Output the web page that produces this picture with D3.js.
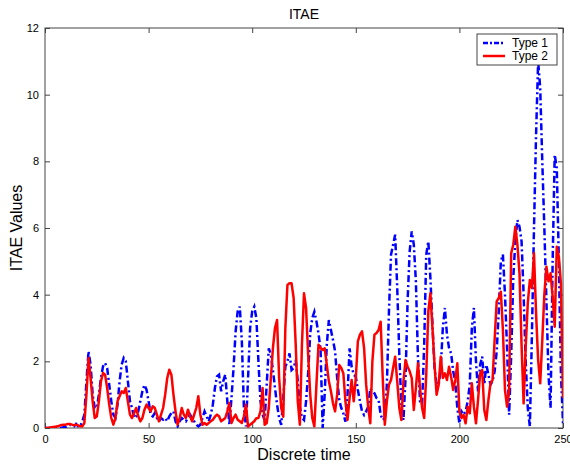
<!DOCTYPE html>
<html>
<head>
<meta charset="utf-8">
<script src="https://cdn.jsdelivr.net/npm/d3@7"></script>
<style>
  body { margin: 0; background: #fff; }
  text { font-family: Arial, "Liberation Sans", sans-serif; }
</style>
</head>
<body>
<svg id="chart"></svg>
<script>
/* ITAE line chart */
var w = 570, h = 464;
var margin = {top: 28, right: 7, bottom: 36, left: 45};

var titleText = "ITAE";
var xLabel = "Discrete time";
var yLabel = "ITAE Values";
var seriesNames = ["Type 1", "Type 2"];
var xTicks = [0, 50, 100, 150, 200, 250];
var yTicks = [0, 2, 4, 6, 8, 10, 12];

// discrete time index 0..250
var time = d3.range(0, 251);

var type1 = [
  0, 0, 0, 0, 0, 0, 0, 0, 0.01, 0.02,
  0.02, 0.05, 0.1, 0.06, 0.05, 0.12, 0.05, 0.05, 0.2, 0.4,
  1.4, 2.3, 1.9, 1.0, 0.6, 0.6, 1.0, 1.5, 1.85, 1.95,
  1.8, 1.3, 0.8, 0.4, 0.3, 0.7, 1.4, 1.9, 2.1, 2.0,
  1.4, 0.8, 0.6, 0.3, 0.35, 0.5, 0.8, 1.1, 1.29, 1.15,
  0.8, 0.4, 0.35, 0.45, 0.3, 0.2, 0.3, 0.25, 0.3, 0.2,
  0.35, 0.45, 0.5, 0.2, 0.05, 0.2, 0.3, 0.25, 0.2, 0.3,
  0.4, 0.3, 0.2, 0.1, 0.05, 0.1, 0.3, 0.5, 0.35, 0.2,
  0.4, 0.7, 1.2, 1.55, 1.6, 1.1, 1.4, 1.6, 0.8, 0.1,
  0.9, 1.8, 2.9, 3.5, 3.64, 2.6, 0.6, 0.05, 1.5, 3.0,
  3.5, 3.64, 3.3, 2.0, 0.8, 0.4, 0.24, 1.3, 2.39, 2.2,
  1.74, 1.2, 0.7, 0.3, 0.09, 0.9, 1.84, 2.0, 2.24, 1.74,
  1.8, 2.04, 1.4, 0.64, 0.3, 0.24, 0.8, 1.64, 2.84, 3.3,
  3.49, 3.2, 2.84, 2.34, 0.0, 1.04, 2.5, 3.24, 2.94, 2.64,
  2.3, 1.5, 0.84, 0.6, 0.44, 0.19, 1.0, 2.39, 1.84, 1.6,
  1.54, 1.14, 0.8, 0.5, 0.39, 0.5, 0.64, 1.19, 1.1, 1.04,
  0.9, 0.84, 0.4, 0.24, 0.3, 1.3, 3.5, 5.2, 5.5, 5.8,
  4.2, 2.2, 0.7, 0.24, 1.5, 3.8, 5.3, 5.9, 5.5, 4.4,
  2.1, 0.8, 0.7, 2.5, 5.2, 5.6, 4.5, 3.1, 1.8, 1.3,
  1.3, 1.8, 3.0, 3.6, 2.8, 2.4, 2.24, 1.7, 1.4, 0.6,
  0.14, 0.5, 0.4, 0.5, 0.8, 1.3, 3.0, 3.6, 2.0, 1.1,
  1.9, 2.14, 1.3, 1.9, 1.6, 1.3, 1.4, 1.7, 2.3, 3.5,
  5.0, 5.2, 4.0, 2.4, 0.4, 2.2, 4.5, 5.6, 6.24, 6.04,
  5.6, 4.0, 2.0, 0.6, 0.04, 2.8, 6.0, 8.8, 11.0, 10.2,
  8.0, 6.0, 3.8, 1.6, 0.6, 5.0, 8.2, 7.8, 5.0, 1.64, 0.14
];

var type2 = [
  0, 0, 0.01, 0.02, 0.03, 0.04, 0.05, 0.07, 0.09, 0.1,
  0.1, 0.12, 0.12, 0.1, 0.08, 0.1, 0.08, 0.05, 0.05, 0.15,
  1.0, 2.1, 1.5, 0.8, 0.3, 0.35, 0.8, 1.4, 1.65, 1.6,
  1.2, 0.7, 0.3, 0.1, 0.3, 0.8, 0.95, 1.1, 1.05, 1.2,
  0.8, 0.4, 0.3, 0.45, 0.6, 0.35, 0.2, 0.3, 0.55, 0.7,
  0.6, 0.5, 0.65, 0.6, 0.4, 0.2, 0.4, 0.6, 1.0, 1.5,
  1.75, 1.6, 1.0, 0.5, 0.1, 0.3, 0.6, 0.4, 0.3, 0.55,
  0.35, 0.2, 0.4, 0.6, 0.95, 0.4, 0.1, 0.15, 0.1, 0.15,
  0.2, 0.25, 0.34, 0.4, 0.35, 0.2, 0.25, 0.3, 0.5, 0.75,
  0.15, 0.3, 0.4, 0.25, 0.2, 0.15, 0.35, 0.7, 0.04, 0.1,
  0.15, 0.2, 0.29, 0.3, 0.5, 1.2, 0.1, 0.15, 0.6, 1.5,
  2.4, 3.0, 3.24, 1.5, 0.6, 0.34, 3.0, 4.29, 4.34, 4.34,
  3.9, 2.5, 0.8, 0.1, 2.5, 4.04, 3.6, 2.2, 1.0, 0.3,
  0.05, 1.3, 2.5, 2.4, 2.34, 2.39, 1.9, 1.4, 1.1, 0.74,
  0.5, 1.0, 1.89, 1.8, 1.64, 0.8, 0.24, 0.9, 1.44, 0.8,
  1.5, 2.6, 2.8, 2.9, 2.4, 1.3, 0.6, 0.14, 2.0, 2.8,
  2.85, 2.94, 3.19, 1.5, 0.1, 0.8, 1.3, 1.44, 1.8, 2.14,
  1.4, 0.6, 0.24, 1.4, 2.04, 1.84, 1.7, 1.5, 0.54, 1.2,
  1.94, 1.2, 0.6, 0.3, 1.6, 3.5, 4.04, 3.0, 1.9, 1.0,
  1.3, 2.14, 1.5, 1.64, 1.44, 1.84, 1.54, 1.14, 1.44, 1.94,
  0.5, 0.3, 0.39, 0.14, 0.64, 0.44, 1.34, 0.64, 0.14, 0.84,
  1.64, 1.74, 0.54, 0.24, 0.84, 1.34, 1.44, 2.64, 3.8, 3.9,
  4.09, 2.94, 1.14, 0.64, 1.14, 5.24, 5.5, 6.04, 5.5, 4.64,
  2.5, 0.74, 2.44, 3.74, 4.44, 4.2, 5.24, 3.44, 2.04, 1.34,
  2.64, 4.0, 4.84, 4.4, 4.64, 3.94, 3.04, 5.44, 5.14, 4.34, 0.9
];

var svg = d3.select("#chart")
            .attr("width", w)
            .attr("height", h);

var x = d3.scaleLinear().domain([0, 250]).range([margin.left, w - margin.right]);
var y = d3.scaleLinear().domain([0, 12]).range([h - margin.bottom, margin.top]);

var axisColor = "#444";

svg.append("defs").append("clipPath")
   .attr("id", "plotclip")
   .append("rect")
   .attr("x", margin.left).attr("y", margin.top)
   .attr("width", w - margin.left - margin.right)
   .attr("height", h - margin.top - margin.bottom);

// axes with inward ticks (box style)
var xAxis = svg.append("g")
   .attr("transform", "translate(0," + (h - margin.bottom) + ")")
   .call(d3.axisBottom(x).tickValues(xTicks).tickSizeInner(-5).tickSizeOuter(0).tickPadding(7));
var xTop = svg.append("g")
   .attr("transform", "translate(0," + margin.top + ")")
   .call(d3.axisTop(x).tickValues(xTicks).tickSizeInner(-5).tickSizeOuter(0).tickFormat(""));
var yAxis = svg.append("g")
   .attr("transform", "translate(" + margin.left + ",0)")
   .call(d3.axisLeft(y).tickValues(yTicks).tickSizeInner(-5).tickSizeOuter(0).tickPadding(6));
var yRight = svg.append("g")
   .attr("transform", "translate(" + (w - margin.right) + ",0)")
   .call(d3.axisRight(y).tickValues(yTicks).tickSizeInner(-5).tickSizeOuter(0).tickFormat(""));

[xAxis, xTop, yAxis, yRight].forEach(function(g) {
  g.select(".domain").remove();
  g.selectAll("line").attr("stroke", axisColor);
  g.selectAll("text").attr("fill", "#000").style("font-size", "11px")
   .style("font-family", "Arial, 'Liberation Sans', sans-serif");
});

svg.append("rect")
   .attr("x", margin.left).attr("y", margin.top)
   .attr("width", w - margin.left - margin.right)
   .attr("height", h - margin.top - margin.bottom)
   .attr("fill", "none")
   .attr("stroke", axisColor)
   .attr("stroke-width", 1);

var line = d3.line()
   .x(function(d, i) { return x(time[i]); })
   .y(function(d) { return y(d); });

var plot = svg.append("g").attr("clip-path", "url(#plotclip)");

plot.append("path")
   .datum(type1)
   .attr("d", line)
   .attr("fill", "none")
   .attr("stroke", "#0000ff")
   .attr("stroke-width", 2.5)
   .attr("stroke-dasharray", "7,3,2,3");

plot.append("path")
   .datum(type2)
   .attr("d", line)
   .attr("fill", "none")
   .attr("stroke", "#ff0000")
   .attr("stroke-width", 2.5)
   .attr("stroke-linejoin", "round");

// titles
svg.append("text")
   .attr("x", (margin.left + w - margin.right) / 2)
   .attr("y", 19)
   .attr("text-anchor", "middle")
   .style("font-size", "14px")
   .text(titleText);

svg.append("text")
   .attr("x", (margin.left + w - margin.right) / 2)
   .attr("y", 460)
   .attr("text-anchor", "middle")
   .style("font-size", "16px")
   .text(xLabel);

svg.append("text")
   .attr("transform", "translate(22," + ((margin.top + h - margin.bottom) / 2) + ") rotate(-90)")
   .attr("text-anchor", "middle")
   .style("font-size", "16px")
   .text(yLabel);

// legend
var legend = svg.append("g").attr("transform", "translate(477,34)");
legend.append("rect")
   .attr("width", 80).attr("height", 31)
   .attr("fill", "#fff")
   .attr("stroke", axisColor);

var legendStyles = [
  {color: "#0000ff", dash: "5,2,2,2"},
  {color: "#ff0000", dash: null}
];

seriesNames.forEach(function(name, i) {
  var row = legend.append("g").attr("transform", "translate(0," + (9 + i * 13) + ")");
  row.append("line")
     .attr("x1", 6).attr("x2", 28)
     .attr("stroke", legendStyles[i].color)
     .attr("stroke-width", 2.5)
     .attr("stroke-dasharray", legendStyles[i].dash);
  row.append("text")
     .attr("x", 35).attr("y", 4)
     .style("font-size", "12px")
     .text(name);
});
</script>
</body>
</html>
